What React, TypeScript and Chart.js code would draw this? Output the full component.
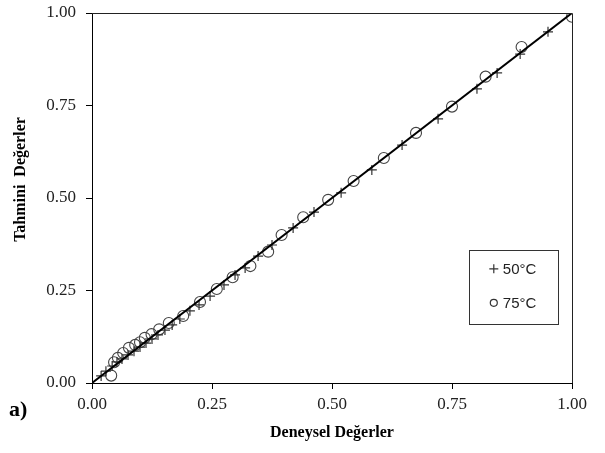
import React, { useEffect, useRef } from "react";
import { Chart, registerables } from "chart.js";

Chart.register(...registerables);

const xTicks = [0, 0.25, 0.5, 0.75, 1.0];
const yTicks = [0, 0.25, 0.5, 0.75, 1.0];

const s50Label = "50°C";
const s50x = [0.019, 0.029, 0.042, 0.052, 0.0625, 0.075, 0.0875, 0.1, 0.1125, 0.125, 0.1375, 0.152, 0.167, 0.183, 0.204, 0.223, 0.246, 0.275, 0.298, 0.319, 0.346, 0.375, 0.419, 0.4625, 0.519, 0.583, 0.646, 0.721, 0.802, 0.844, 0.892, 0.95];
const s50y = [0.019, 0.032, 0.046, 0.057, 0.065, 0.076, 0.086, 0.097, 0.108, 0.119, 0.13, 0.143, 0.157, 0.173, 0.195, 0.211, 0.235, 0.265, 0.292, 0.311, 0.343, 0.373, 0.419, 0.462, 0.514, 0.576, 0.643, 0.714, 0.795, 0.838, 0.889, 0.949];

const s75Label = "75°C";
const s75x = [0.04, 0.046, 0.054, 0.065, 0.077, 0.09, 0.1, 0.11, 0.124, 0.14, 0.16, 0.19, 0.225, 0.26, 0.293, 0.33, 0.367, 0.395, 0.44, 0.492, 0.545, 0.608, 0.675, 0.75, 0.82, 0.895, 1.0];
const s75y = [0.02, 0.056, 0.068, 0.081, 0.095, 0.103, 0.11, 0.122, 0.132, 0.145, 0.162, 0.181, 0.219, 0.254, 0.286, 0.316, 0.355, 0.4, 0.448, 0.495, 0.546, 0.608, 0.676, 0.747, 0.828, 0.908, 0.99];

const fitX = [0, 1];
const fitY = [0, 1];

const xTitle = "Deneysel Değerler";
const yTitle = "Tahmini  Değerler";
const panelLabel = "a)";

const SERIF = "'Liberation Serif', 'Times New Roman', serif";
const SANS = "'Liberation Sans', Arial, sans-serif";

const framePlugin = {
  id: "frameAndExtras",
  afterDraw(chart: any) {
    const { ctx, chartArea, scales } = chart;
    ctx.save();
    // frame
    ctx.strokeStyle = "#222";
    ctx.lineWidth = 1;
    ctx.beginPath();
    ctx.moveTo(chartArea.left, chartArea.top + 0.5);
    ctx.lineTo(chartArea.right + 0.5, chartArea.top + 0.5);
    ctx.lineTo(chartArea.right + 0.5, chartArea.bottom);
    ctx.stroke();

    // y title
    ctx.fillStyle = "#000";
    ctx.font = `bold 16px ${SERIF}`;
    ctx.textAlign = "center";
    ctx.textBaseline = "middle";
    ctx.translate(21, scales.y.getPixelForValue(0.55));
    ctx.rotate(-Math.PI / 2);
    ctx.fillText(yTitle, 0, 0);
    ctx.setTransform(1, 0, 0, 1, 0, 0);

    // panel label
    ctx.font = `bold 22px ${SERIF}`;
    ctx.textAlign = "left";
    ctx.textBaseline = "middle";
    ctx.fillText(panelLabel, 9, 410);

    // legend
    const bx = scales.x.getPixelForValue(0.785);
    const by = scales.y.getPixelForValue(0.36);
    const bw = 89;
    const bh = 74;
    ctx.strokeStyle = "#333";
    ctx.lineWidth = 1;
    ctx.strokeRect(Math.round(bx) + 0.5, Math.round(by) + 0.5, bw, bh);
    const mx = bx + 25;
    const y1 = by + 19;
    const y2 = by + 53;
    ctx.strokeStyle = "#333";
    ctx.lineWidth = 1.2;
    ctx.beginPath();
    ctx.moveTo(mx - 4.5, y1);
    ctx.lineTo(mx + 4.5, y1);
    ctx.moveTo(mx, y1 - 4.5);
    ctx.lineTo(mx, y1 + 4.5);
    ctx.stroke();
    ctx.beginPath();
    ctx.arc(mx, y2, 3.5, 0, Math.PI * 2);
    ctx.stroke();
    ctx.fillStyle = "#222";
    ctx.font = `15px ${SANS}`;
    ctx.textAlign = "left";
    ctx.textBaseline = "middle";
    ctx.fillText(s50Label, mx + 9, y1 + 1);
    ctx.fillText(s75Label, mx + 9, y2 + 1);
    ctx.restore();
  },
};

export default function App() {
  const ref = useRef<HTMLCanvasElement | null>(null);
  useEffect(() => {
    if (!ref.current) return;
    const chart = new Chart(ref.current, {
      type: "scatter",
      data: {
        datasets: [
          {
            label: "fit",
            type: "line",
            data: fitX.map((x, i) => ({ x, y: fitY[i] })),
            borderColor: "#000",
            borderWidth: 2,
            pointRadius: 0,
            fill: false,
          } as any,
          {
            label: s50Label,
            data: s50x.map((x, i) => ({ x, y: s50y[i] })),
            pointStyle: "cross",
            pointRadius: 5,
            borderColor: "#333",
            backgroundColor: "#333",
            pointBorderWidth: 1.2,
          },
          {
            label: s75Label,
            data: s75x.map((x, i) => ({ x, y: s75y[i] })),
            pointStyle: "circle",
            pointRadius: 5.5,
            borderColor: "#444",
            backgroundColor: "rgba(0,0,0,0)",
            pointBorderWidth: 1.1,
          },
        ],
      },
      options: {
        animation: false,
        responsive: false,
        maintainAspectRatio: false,
        layout: { padding: { top: 13, right: 33, left: 0, bottom: 0 } },
        plugins: {
          legend: { display: false },
          tooltip: { enabled: false },
        },
        scales: {
          x: {
            type: "linear",
            min: 0,
            max: 1,
            afterFit: (s: any) => {
              s.height = 70;
              s.paddingLeft = 0;
              s.paddingRight = 0;
            },
            afterBuildTicks: (s: any) => {
              s.ticks = xTicks.map((v) => ({ value: v }));
            },
            ticks: {
              font: { family: SERIF, size: 17 },
              color: "#222",
              padding: 5,
              callback: (v: any) => Number(v).toFixed(2),
            },
            grid: {
              drawOnChartArea: false,
              drawTicks: true,
              tickLength: 6,
              color: "#000",
            },
            border: { color: "#000", width: 1 },
            title: {
              display: true,
              text: xTitle,
              font: { family: SERIF, size: 16, weight: "bold" },
              color: "#000",
              padding: { top: 0, bottom: 11 },
            },
          },
          y: {
            type: "linear",
            min: 0,
            max: 1,
            afterFit: (s: any) => {
              s.width = 92;
              s.paddingTop = 0;
              s.paddingBottom = 0;
            },
            afterBuildTicks: (s: any) => {
              s.ticks = yTicks.map((v) => ({ value: v }));
            },
            ticks: {
              font: { family: SERIF, size: 17 },
              color: "#222",
              padding: 10,
              callback: (v: any) => Number(v).toFixed(2),
            },
            grid: {
              drawOnChartArea: false,
              drawTicks: true,
              tickLength: 6,
              color: "#000",
            },
            border: { color: "#000", width: 1 },
            title: { display: false },
          },
        },
      },
      plugins: [framePlugin],
    } as any);
    return () => chart.destroy();
  }, []);
  return (
    <div style={{ position: "absolute", left: 0, top: 0, width: 605, height: 453, background: "#fff" }}>
      <canvas ref={ref} width={605} height={453} style={{ display: "block" }} />
    </div>
  );
}
